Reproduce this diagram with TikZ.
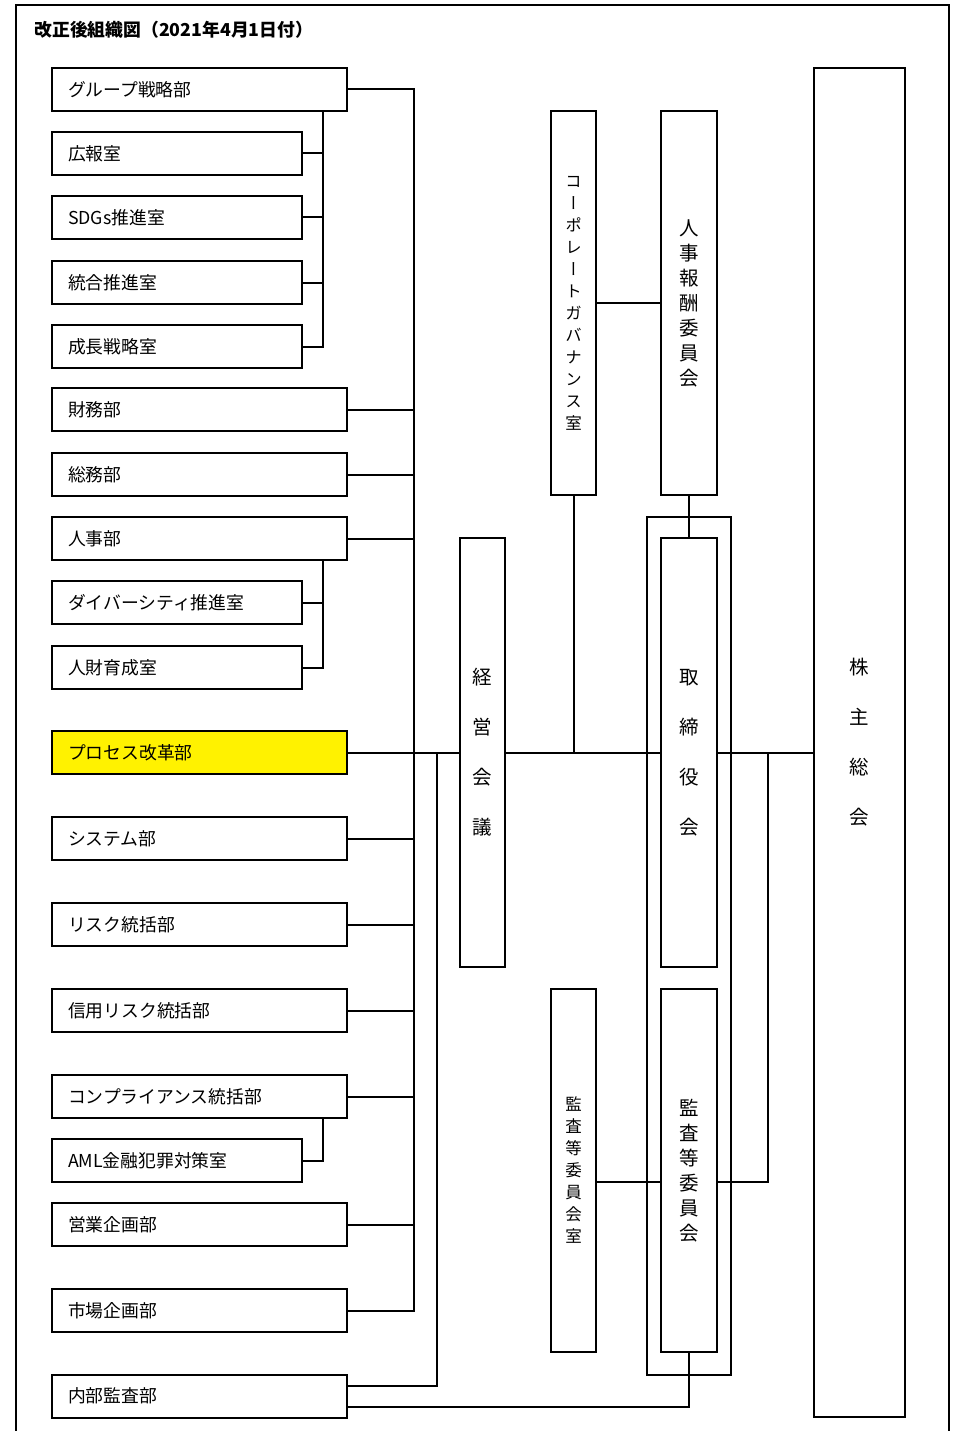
\documentclass[tikz,border=0pt]{standalone}
\usepackage{fontspec}
\usepackage{tikz}
\newfontfamily\jpfont{Noto Sans CJK JP}
\newfontfamily\jpvert[RawFeature=+vert]{Noto Sans CJK JP}
\usetikzlibrary{positioning}
\tikzset{
  link/.style={line width=2pt},
  unit/.style={draw, line width=2pt, minimum height=43pt, inner xsep=16pt, inner ysep=0pt, anchor=west, align=left, font=\jpfont\fontsize{17.8}{20}\selectfont},
  wide/.style={unit, text width=263pt},
  narrow/.style={unit, text width=218pt},
  organ/.style={draw, line width=2pt, inner sep=0pt, align=center},
  sparse/.style={organ, font=\jpvert\fontsize{19.5}{50}\selectfont},
  dense/.style={organ, font=\jpvert\fontsize{19.5}{25}\selectfont},
  small/.style={organ, font=\jpvert\fontsize{16.5}{22}\selectfont},
}

\begin{document}
\begin{tikzpicture}[x=1pt,y=-1pt]
                \useasboundingbox (0,0) rectangle (955,1431);
                % frame
                \draw[link] (16,1431) |- (949,5) -- (949,1431);
                \node[anchor=west, font=\jpfont\bfseries\fontsize{17.8}{20}\selectfont] (title) at (31,30) {改正後組織図（2021年4月1日付）};
                % departments
                \node[wide]   (group)  at (51,89.5)   {グループ戦略部};
                \node[narrow] (pr)     at (51,153.5)  {広報室};
                \node[narrow] (sdgs)   at (51,217.5)  {SDGs推進室};
                \node[narrow] (integ)  at (51,282.5)  {統合推進室};
                \node[narrow] (strat)  at (51,346.5)  {成長戦略室};
                \node[wide]   (fin)    at (51,409.5)  {財務部};
                \node[wide]   (gen)    at (51,474.5)  {総務部};
                \node[wide]   (hr)     at (51,538.5)  {人事部};
                \node[narrow] (divers) at (51,602.5)  {ダイバーシティ推進室};
                \node[narrow] (talent) at (51,667.5)  {人財育成室};
                \node[wide, fill=yellow] (proc) at (51,752.5) {プロセス改革部};
                \node[wide]   (sys)    at (51,838.5)  {システム部};
                \node[wide]   (risk)   at (51,924.5)  {リスク統括部};
                \node[wide]   (credit) at (51,1010.5) {信用リスク統括部};
                \node[wide]   (comp)   at (51,1096.5) {コンプライアンス統括部};
                \node[narrow] (aml)    at (51,1160.5) {AML金融犯罪対策室};
                \node[wide]   (sales)  at (51,1224.5) {営業企画部};
                \node[wide]   (mkt)    at (51,1310.5) {市場企画部};
                \node[wide]   (audit)  at (51,1396)   {内部監査部};
                % organs
                \node[organ, minimum width=84pt, minimum height=858pt] (frame) at (689,946) {};
                \node[sparse, minimum width=45pt, minimum height=429pt] (mgmt)  at (482.5,752.5) {経\\営\\会\\議};
                \node[sparse, minimum width=56pt, minimum height=429pt] (board) at (689,752.5)   {取\\締\\役\\会};
                \node[sparse, minimum width=91pt, minimum height=1349pt] (gms) at (859.5,742.5)  {株\\主\\総\\会};
                \node[small, minimum width=45pt, minimum height=384pt] (cg)    at (573.5,303)   {コ\\ー\\ポ\\レ\\ー\\ト\\ガ\\バ\\ナ\\ン\\ス\\室};
                \node[dense, minimum width=56pt, minimum height=384pt] (hrc)   at (689,303)     {人\\事\\報\\酬\\委\\員\\会};
                \node[small, minimum width=45pt, minimum height=363pt] (acr)   at (573.5,1170.5) {監\\査\\等\\委\\員\\会\\室};
                \node[dense, minimum width=56pt, minimum height=363pt] (acb)   at (689,1170.5)  {監\\査\\等\\委\\員\\会};
                % buses
                \coordinate (bus) at (414,0);
                \coordinate (subbus) at (323,0);
                \coordinate (auditbus) at (437,0);
                \coordinate (gmsbus) at (768,0);
                \draw[link] (group.east) -| (mkt.east -| bus) -- (mkt.east);
                \foreach \n in {fin,gen,hr,proc,sys,risk,credit,comp,sales}{\draw[link] (\n.east) -- (\n.east -| bus);}
                \draw[link] (group.south -| subbus) |- (strat.east);
                \foreach \n in {pr,sdgs,integ}{\draw[link] (\n.east) -- (\n.east -| subbus);}
                \draw[link] (hr.south -| subbus) |- (talent.east);
                \draw[link] (divers.east) -- (divers.east -| subbus);
                \draw[link] (comp.south -| subbus) |- (aml.east);
                % main line
                \draw[link] (proc.east) -- (mgmt.west);
                \draw[link] (mgmt.east) -- (board.west);
                \draw[link] (board.east) -- (board.east -| gms.west);
                \draw[link] (cg.south) -- (cg.south |- mgmt.east);
                \draw[link] (cg.east) -- (hrc.west);
                \draw[link] (hrc.south) -- (board.north);
                % audit
                \draw[link] ([yshift=-11pt]acr.east) -- ([yshift=-11pt]acb.west);
                \draw[link] ([yshift=-11pt]acb.east) -| (board.east -| gmsbus);
                \draw[link] ([yshift=10pt]audit.east) -| (proc.east -| auditbus);
                \draw[link] ([yshift=-11pt]audit.east) -| (acb.south);
            \end{tikzpicture}
\end{document}
